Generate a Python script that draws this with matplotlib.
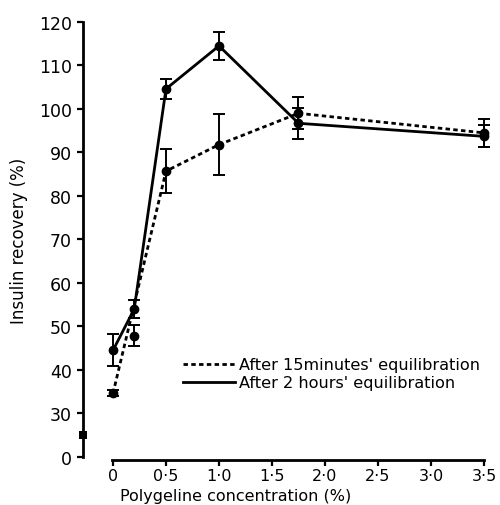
import matplotlib
matplotlib.use("Agg")
import matplotlib.pyplot as plt
import numpy as np

# ---- data ----
conc = [0.0, 0.2, 0.5, 1.0, 1.75, 3.5]
rec_15min = [34.6, 47.9, 85.7, 91.8, 99.0, 94.5]
err_15min = [0.7, 2.4, 5.1, 7.0, 3.7, 3.2]
rec_2h = [44.5, 54.0, 104.6, 114.5, 96.7, 93.7]
err_2h = [3.7, 2.0, 2.3, 3.2, 3.5, 2.5]
line15_idx = [0, 2, 3, 4, 5]   # dashed curve skips the 0.2 % point
yticks = [20, 30, 40, 50, 60, 70, 80, 90, 100, 110, 120]
ytick_labels = ['0', '30', '40', '50', '60', '70', '80', '90', '100', '110', '120']
xticks = [0, 0.5, 1.0, 1.5, 2.0, 2.5, 3.0, 3.5]
xtick_labels = ['0', '0·5', '1·0', '1·5', '2·0', '2·5', '3·0', '3·5']
label_15 = "After 15minutes' equilibration"
label_2h = "After 2 hours' equilibration"

plt.rcParams['font.family'] = ['DejaVu Sans']

fig = plt.figure(figsize=(5.0, 5.06), dpi=100)
ax = fig.add_axes([0.166, 0.089, 0.814, 0.8716])

lw = 2.0
dash = (0, (1.6, 1.2))

# lines
ax.plot([conc[i] for i in line15_idx], [rec_15min[i] for i in line15_idx],
        color='black', lw=lw, linestyle=dash)
ax.plot(conc, rec_2h, color='black', lw=lw)

# markers + error bars
ax.errorbar(conc, rec_15min, yerr=err_15min, fmt='o', color='black', ms=6,
            elinewidth=1.4, capsize=4, capthick=1.4)
ax.errorbar(conc, rec_2h, yerr=err_2h, fmt='o', color='black', ms=6,
            elinewidth=1.4, capsize=4, capthick=1.4)

ax.set_xlim(-0.283, 3.557)
ax.set_ylim(19.31, 120.69)

for s in ['top', 'right']:
    ax.spines[s].set_visible(False)
ax.spines['left'].set_linewidth(2.0)
ax.spines['bottom'].set_linewidth(2.0)
ax.spines['left'].set_bounds(20, 120)
ax.spines['bottom'].set_bounds(-0.01, 3.5)

ax.set_yticks(yticks)
ax.set_yticklabels(ytick_labels)
ax.set_xticks(xticks)
ax.set_xticklabels(xtick_labels)
ax.tick_params(axis='y', direction='out', length=4, width=1.6, labelsize=12.5, pad=4)
ax.tick_params(axis='x', direction='out', length=4, width=1.6, labelsize=11.5, pad=2)

# axis break marker on y axis
ax.plot([ax.get_xlim()[0]], [25], marker='s', ms=5.5, color='black',
        clip_on=False, markeredgewidth=0)

ax.set_ylabel('Insulin recovery (%)', fontsize=12, labelpad=8)
fig.text(236 / 500, 1 - 497 / 506, 'Polygeline concentration (%)',
         fontsize=11.5, ha='center', va='center')

# legend drawn manually
ax.plot([0.66, 1.15], [41.3, 41.3], color='black', lw=lw, linestyle=dash)
ax.plot([0.66, 1.15], [37.2, 37.2], color='black', lw=lw)
ax.text(1.19, 41.3, label_15, fontsize=11.6, va='center', ha='left')
ax.text(1.19, 37.2, label_2h, fontsize=11.6, va='center', ha='left')

fig.savefig('out.png', dpi=100)
